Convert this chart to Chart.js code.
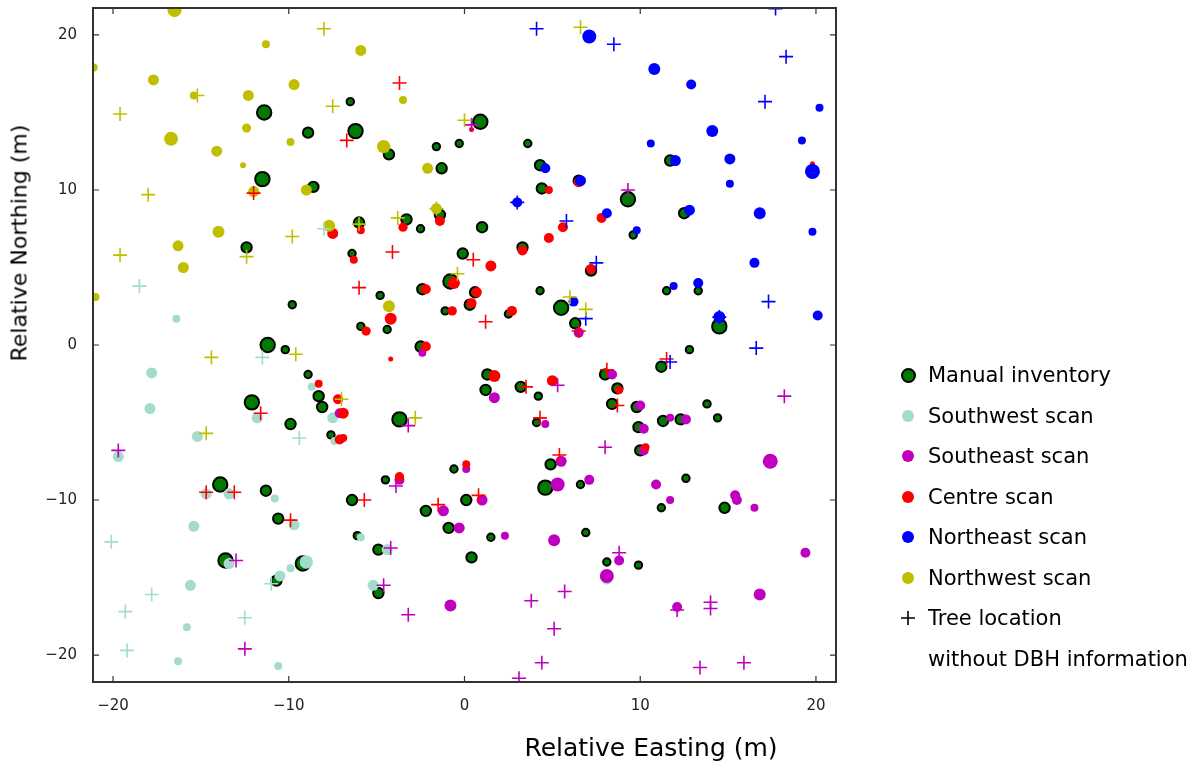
<!DOCTYPE html>
<html>
<head>
<meta charset="utf-8">
<script src="https://cdn.jsdelivr.net/npm/chart.js@4.4.1/dist/chart.umd.min.js"></script>
<style>
  body { margin: 0; background: #fff; font-family: "DejaVu Sans", sans-serif; }
  #wrap { position: relative; width: 1199px; height: 770px; overflow: hidden; }
  #chart { position: absolute; left: 0; top: -9px; }
  .ytitle { position: absolute; left: 19px; top: 243px; transform: translate(-50%, -50%) rotate(-90deg); font-size: 22px; white-space: nowrap; }
  .xtitle { position: absolute; left: 651px; top: 747px; transform: translate(-50%, -50%); font-size: 25px; white-space: nowrap; }
  #legend { position: absolute; left: 897px; top: 355px; font-size: 21px; }
  .item { height: 40.5px; display: flex; align-items: center; white-space: nowrap; }
  .mk { width: 22px; height: 22px; margin-right: 9px; display: flex; align-items: center; justify-content: center; }
  .dot { width: 12px; height: 12px; border-radius: 50%; }
</style>
</head>
<body>
<div id="wrap">
  <canvas id="chart" width="1199" height="779"></canvas>
  <div class="ytitle">Relative Northing (m)</div>
  <div class="xtitle">Relative Easting (m)</div>
  <div id="legend"></div>
</div>
<script>
// [easting, northing, dbh(cm)]
const manualInventory = [
  [-11.4,15.0,45],[-8.9,13.7,33],[-6.2,13.8,45],[-6.5,15.7,24],[-4.3,12.3,33],[-1.6,12.8,24],[-0.3,13.0,24],[0.9,14.4,45],
  [-11.5,10.7,45],[-8.6,10.2,33],[-1.3,11.4,33],[3.6,13.0,24],[4.3,11.6,33],[4.4,10.1,33],[6.5,10.6,33],[9.3,9.4,45],
  [-12.4,6.3,33],[-9.8,2.6,24],[-6.4,5.9,24],[-6.0,7.9,33],[-3.3,8.1,33],[-2.5,7.5,24],[-1.4,8.4,33],[1.0,7.6,33],
  [-0.1,5.9,33],[3.3,6.3,33],[-4.8,3.2,24],[-2.4,3.6,33],[-0.8,4.1,45],[0.6,3.4,33],[0.3,2.6,33],[-1.1,2.2,24],
  [2.5,2.0,24],[4.3,3.5,24],[5.5,2.4,45],[6.3,1.4,33],[-5.9,1.2,24],[-4.4,1.0,24],[-2.5,-0.1,33],[12.5,8.5,33],
  [9.6,7.1,24],[7.2,4.8,33],[11.5,3.5,24],[13.3,3.5,24],[14.5,1.2,45],[12.8,-0.3,24],[11.7,11.9,33],[-11.2,0.0,45],
  [-10.2,-0.3,24],[-8.9,-1.9,24],[-8.3,-3.3,33],[-8.1,-4.0,33],[-12.1,-3.7,45],[-9.9,-5.1,33],[-7.6,-5.8,24],[-13.9,-9.0,45],
  [-11.3,-9.4,33],[-10.6,-11.2,33],[-13.6,-13.9,45],[-9.2,-14.1,45],[-10.7,-15.2,33],[1.3,-1.9,33],[1.2,-2.9,33],[3.2,-2.7,33],
  [4.2,-3.3,24],[4.1,-5.0,24],[-3.7,-4.8,45],[-0.6,-8.0,24],[-4.5,-8.7,24],[4.9,-7.7,33],[4.6,-9.2,45],[6.6,-9.0,24],
  [0.1,-10.0,33],[-2.2,-10.7,33],[-6.4,-10.0,33],[11.2,-1.4,33],[8.0,-1.9,33],[8.7,-2.8,33],[8.4,-3.8,33],[9.8,-4.0,33],
  [11.3,-4.9,33],[12.3,-4.8,33],[13.8,-3.8,24],[14.4,-4.7,24],[9.9,-5.3,33],[10.0,-6.8,33],[12.6,-8.6,24],[11.2,-10.5,24],
  [14.8,-10.5,33],[-6.1,-12.3,24],[-4.9,-13.2,33],[-0.9,-11.8,33],[1.5,-12.4,24],[0.4,-13.7,33],[6.9,-12.1,24],[-4.9,-16.0,33],
  [8.1,-14.0,24],[9.9,-14.2,24]
];
const southwestScan = [
  [-16.4,1.7,24],[-17.8,-1.8,33],[-17.9,-4.1,33],[-15.2,-5.9,33],[-19.7,-7.2,33],[-8.7,-2.7,24],[-11.8,-4.7,33],[-7.5,-4.7,33],
  [-7.4,-6.2,24],[-14.7,-9.6,33],[-13.4,-9.6,33],[-10.8,-9.9,24],[-15.4,-11.7,33],[-9.7,-11.6,33],[-13.4,-14.1,33],[-9.0,-14.0,40],
  [-9.9,-14.4,24],[-10.5,-14.9,33],[-15.6,-15.5,33],[-15.8,-18.2,24],[-16.3,-20.4,24],[-10.6,-20.7,24],[-5.9,-12.4,24],[-4.4,-13.2,33],
  [-5.2,-15.5,33],[8.1,-15.1,33]
];
const southeastScan = [
  [8.4,-1.9,30],[10.0,-3.9,30],[11.7,-4.7,24],[12.6,-4.8,30],[10.2,-5.4,30],[10.2,-6.8,30],[17.4,-7.5,45],[7.1,-8.7,30],
  [10.9,-9.0,30],[11.7,-10.0,24],[15.4,-9.7,30],[15.5,-10.0,30],[16.5,-10.5,24],[1.7,-3.4,33],[4.6,-5.1,24],[0.1,-8.0,24],
  [-3.7,-8.7,30],[5.5,-7.5,33],[5.3,-9.0,42],[1.0,-10.0,33],[-1.2,-10.7,33],[-0.3,-11.8,33],[2.3,-12.3,24],[5.1,-12.6,36],
  [-0.8,-16.8,36],[8.8,-13.9,30],[8.1,-14.9,42],[19.4,-13.4,30],[16.8,-16.1,36],[12.1,-16.9,30],[-2.4,-0.5,24],[6.5,0.8,30],
  [-7.1,-4.4,30]
];
const centreScan = [
  [4.8,10.0,24],[6.5,10.5,30],[7.8,8.2,30],[5.6,7.6,30],[4.8,6.9,30],[3.3,6.1,30],[-6.3,5.5,24],[-5.9,7.4,24],
  [-3.5,7.6,28],[-1.4,8.0,30],[1.5,5.1,33],[-2.2,3.6,30],[-0.6,4.0,36],[0.7,3.4,30],[0.4,2.7,30],[-0.7,2.2,28],
  [2.7,2.2,30],[-5.6,0.9,28],[-4.2,1.7,36],[-2.2,-0.1,30],[7.2,4.9,30],[-7.5,7.2,33],[-4.2,-0.9,15],[1.7,-2.0,36],
  [5.0,-2.3,33],[-6.9,-4.4,33],[-6.9,-6.0,24],[0.1,-7.7,24],[-3.7,-8.5,28],[-8.3,-2.5,24],[-7.2,-3.5,30],[-7.1,-6.1,30],
  [8.8,-2.9,24],[10.3,-6.6,24],[19.8,11.7,15],[0.4,13.9,15]
];
const northeastScan = [
  [7.1,19.9,42],[10.8,17.8,36],[12.9,16.8,30],[20.2,15.3,24],[14.1,13.8,36],[19.2,13.2,24],[10.6,13.0,24],[12.0,11.9,33],
  [15.1,12.0,33],[19.8,11.2,45],[4.6,11.4,30],[6.6,10.6,33],[8.1,8.5,30],[9.8,7.4,24],[12.8,8.7,33],[15.1,10.4,24],
  [16.8,8.5,36],[19.8,7.3,24],[16.5,5.3,30],[11.9,3.8,24],[13.3,4.0,30],[20.1,1.9,30],[14.5,1.8,36],[3.0,9.2,30],
  [6.2,2.8,30]
];
const northwestScan = [
  [-16.5,21.6,42],[-11.3,19.4,24],[-17.7,17.1,33],[-9.7,16.8,33],[-15.4,16.1,24],[-12.3,16.1,33],[-12.4,14.0,27],[-16.7,13.3,42],
  [-14.1,12.5,33],[-9.9,13.1,24],[-12.6,11.6,18],[-5.9,19.0,33],[-3.5,15.8,24],[-4.6,12.8,40],[-2.1,11.4,33],[-12.0,9.9,33],
  [-9.0,10.0,33],[-7.7,7.7,36],[-14.0,7.3,36],[-16.3,6.4,33],[-16.0,5.0,33],[-1.6,8.8,33],[-4.3,2.5,36],[-21.0,3.1,24],
  [-21.1,17.9,24]
];
// tree locations without DBH information, by scan
const southwestPlus = [[-18.5,3.8],[-11.5,-0.8],[-9.4,-6.0],[-20.1,-12.7],[-11.0,-15.4],[-17.8,-16.1],[-19.3,-17.2],[-12.5,-17.6],[-19.2,-19.7],[-8.0,7.5]];
const southeastPlus = [[-19.7,-6.8],[-13.0,-13.9],[-12.5,-19.6],[-4.2,-13.1],[-4.6,-15.5],[-3.2,-17.4],[3.8,-16.5],[5.7,-15.9],
  [5.1,-18.3],[4.4,-20.5],[3.1,-21.5],[8.8,-13.4],[12.1,-17.1],[14.0,-16.6],[14.0,-17.0],[13.4,-20.8],[15.9,-20.5],[8.0,-6.6],
  [18.2,-3.3],[5.3,-2.6],[-3.2,-5.2],[-3.9,-9.1],[0.4,14.2],[9.3,10.0]];
const centrePlus = [[-3.7,16.9],[-6.7,13.2],[-12.0,9.8],[-4.1,6.0],[0.5,5.5],[-6.0,3.7],[1.2,1.5],[3.5,-2.7],[4.3,-4.7],[-5.7,-10.0],
  [5.4,-7.1],[0.8,-9.7],[-1.5,-10.3],[8.1,-1.6],[8.7,-3.9],[11.5,-0.9],[-11.6,-4.4],[-14.7,-9.5],[-13.1,-9.5],[-9.9,-11.3],[6.5,0.9]];
const northeastPlus = [[4.1,20.4],[8.5,19.4],[18.3,18.6],[17.1,15.7],[17.7,21.7],[3.0,9.2],[5.8,8.0],[7.5,5.3],[17.3,2.8],[14.5,1.8],
  [16.6,-0.2],[11.7,-1.1],[6.9,1.7]];
const northwestPlus = [[-8.0,20.4],[-7.5,15.4],[-19.6,14.9],[-15.2,16.1],[-18.0,9.7],[-9.8,7.0],[-19.6,5.8],[-12.4,5.7],[0.0,14.5],
  [6.6,20.5],[-1.6,8.8],[-3.8,8.2],[-6.0,7.8],[-0.4,4.6],[6.0,3.1],[6.9,2.3],[-14.4,-0.8],[-9.6,-0.6],[-14.7,-5.7],[-2.8,-4.7],[-7.0,-3.5]];

const xTicks = [-20, -10, 0, 10, 20];
const yTicks = [-20, -10, 0, 10, 20];
const seriesNames = ["Manual inventory", "Southwest scan", "Southeast scan", "Centre scan", "Northeast scan", "Northwest scan"];

const GREEN = "#007a00", TEAL = "#a3dccb", MAG = "#bf00bf", RED = "#ff0000", BLUE = "#0000ff", YEL = "#bfbf00";

const pts = arr => arr.map(([x, y, d]) => ({ x, y, d }));

function circles(label, arr, color, order) {
  return {
    label, data: pts(arr), order,
    pointStyle: "circle",
    backgroundColor: color, borderColor: color, borderWidth: 0,
    pointRadius: c => (c.raw ? c.raw.d / 6 : 4)
  };
}
function pluses(label, arr, color, order) {
  return {
    label, data: pts(arr), order,
    pointStyle: "cross",
    pointRadius: 7, borderWidth: 1.6,
    borderColor: color, backgroundColor: color
  };
}

const datasets = [
  { label: seriesNames[0], data: pts(manualInventory), order: 20, pointStyle: "circle",
    backgroundColor: GREEN, borderColor: "#000", borderWidth: 2,
    pointRadius: c => (c.raw ? c.raw.d / 6 - 0.3 : 4) },
  circles(seriesNames[1], southwestScan, TEAL, 15),
  circles(seriesNames[2], southeastScan, MAG, 14),
  circles(seriesNames[3], centreScan, RED, 13),
  circles(seriesNames[4], northeastScan, BLUE, 12),
  circles(seriesNames[5], northwestScan, YEL, 11),
  pluses("sw plus", southwestPlus, TEAL, 6),
  pluses("se plus", southeastPlus, MAG, 5),
  pluses("c plus", centrePlus, RED, 4),
  pluses("ne plus", northeastPlus, BLUE, 3),
  pluses("nw plus", northwestPlus, YEL, 2)
];

// frame and inward tick marks
const framePlugin = {
  id: "frame",
  afterDatasetsDraw(chart) {
    const { ctx, chartArea: a, scales } = chart;
    ctx.save();
    ctx.strokeStyle = "#333";
    ctx.lineWidth = 1.2;
    xTicks.forEach(v => {
      const px = scales.x.getPixelForValue(v);
      ctx.beginPath();
      ctx.moveTo(px, a.bottom); ctx.lineTo(px, a.bottom - 6);
      ctx.moveTo(px, a.top); ctx.lineTo(px, a.top + 6);
      ctx.stroke();
    });
    yTicks.forEach(v => {
      const py = scales.y.getPixelForValue(v);
      ctx.beginPath();
      ctx.moveTo(a.left, py); ctx.lineTo(a.left + 6, py);
      ctx.moveTo(a.right, py); ctx.lineTo(a.right - 6, py);
      ctx.stroke();
    });
    ctx.lineWidth = 2;
    ctx.strokeRect(a.left, a.top, a.right - a.left, a.bottom - a.top);
    ctx.restore();
  }
};

new Chart(document.getElementById("chart").getContext("2d"), {
  type: "scatter",
  data: { datasets },
  options: {
    responsive: false,
    animation: false,
    clip: true,
    layout: { padding: { top: 0, right: 363, left: 0, bottom: 0 } },
    plugins: { legend: { display: false }, tooltip: { enabled: false } },
    scales: {
      x: {
        min: -21.14, max: 21.14,
        grid: { display: false }, border: { display: false },
        ticks: { color: "#222", font: { family: "DejaVu Sans", size: 15 }, padding: 7, maxRotation: 0,
                 callback: v => String(v).replace("-", "\u2212") },
        afterBuildTicks: s => { s.ticks = xTicks.map(v => ({ value: v })); },
        afterFit: s => { s.height = 88; }
      },
      y: {
        min: -21.74, max: 21.74,
        grid: { display: false }, border: { display: false },
        ticks: { color: "#222", font: { family: "DejaVu Sans", size: 15 }, padding: 8,
                 callback: v => String(v).replace("-", "\u2212") },
        afterBuildTicks: s => { s.ticks = yTicks.map(v => ({ value: v })); },
        afterFit: s => { s.width = 93; }
      }
    }
  },
  plugins: [framePlugin]
});

// legend (html)
const legendItems = [
  { name: seriesNames[0], color: GREEN, edge: "#000" },
  { name: seriesNames[1], color: TEAL },
  { name: seriesNames[2], color: MAG },
  { name: seriesNames[3], color: RED },
  { name: seriesNames[4], color: BLUE },
  { name: seriesNames[5], color: YEL },
  { name: "Tree location", plus: true },
  { name: "without DBH information", blank: true }
];
const leg = document.getElementById("legend");
legendItems.forEach(it => {
  const row = document.createElement("div");
  row.className = "item";
  const mk = document.createElement("div");
  mk.className = "mk";
  if (it.plus) {
    mk.innerHTML = '<svg width="14" height="14"><path d="M7 0V14M0 7H14" stroke="#000" stroke-width="1.6"/></svg>';
  } else if (!it.blank) {
    const d = document.createElement("div");
    d.className = "dot";
    d.style.background = it.color;
    if (it.edge) { d.style.border = "2px solid " + it.edge; d.style.width = "11px"; d.style.height = "11px"; }
    mk.appendChild(d);
  }
  row.appendChild(mk);
  row.appendChild(document.createTextNode(it.name));
  leg.appendChild(row);
});
</script>
</body>
</html>
